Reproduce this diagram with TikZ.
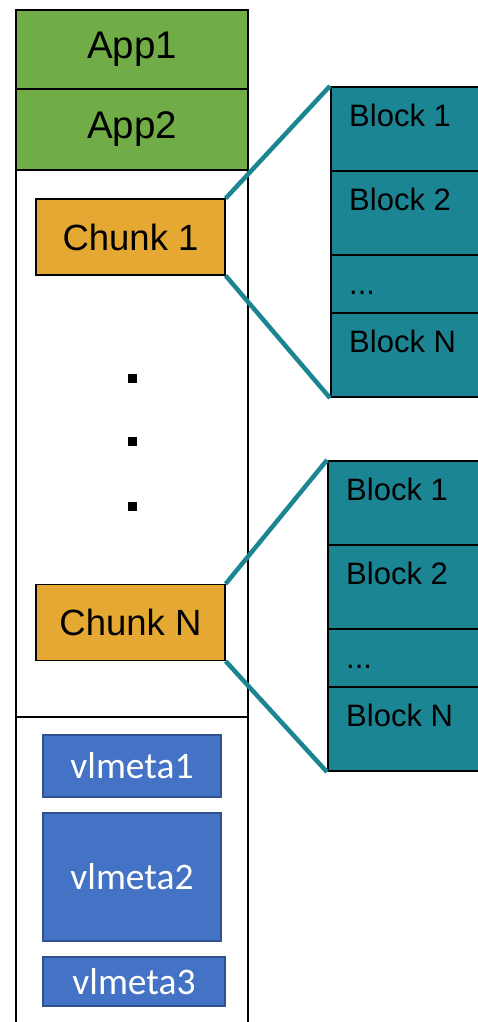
\documentclass[tikz,border=0pt]{standalone}
\usepackage{fontspec}
\setmainfont{Liberation Sans}
\newfontfamily\metafont{Carlito}
\definecolor{appgreen}{HTML}{70AD47}
\definecolor{chunkgold}{HTML}{E5A832}
\definecolor{blockteal}{HTML}{1B8593}
\definecolor{metablue}{HTML}{4472C4}
\definecolor{metaedge}{HTML}{2F528F}
\begin{document}
\begin{tikzpicture}[x=1pt,y=-1pt,
  col/.style={draw,line width=1.6pt,minimum width=232pt,inner sep=0pt},
  app/.style={col,fill=appgreen,font=\fontsize{38.5}{44}\selectfont},
  chunk/.style={draw,line width=1.3pt,fill=chunkgold,minimum width=189pt,minimum height=76pt,inner sep=0pt,font=\fontsize{36.5}{42}\selectfont},
  blk/.style={draw,line width=2pt,fill=blockteal,minimum width=170pt,minimum height=#1,inner sep=0pt,anchor=north west},
  btxt/.style={anchor=north west,inner sep=0pt,font=\fontsize{31}{36}\selectfont,text height=22pt},
  meta/.style={draw=metaedge,line width=1.5pt,fill=metablue,text=white,inner sep=0pt,font=\metafont\fontsize{37.5}{42}\selectfont},
  dotsq/.style={fill,minimum size=9pt,inner sep=0pt},
  zoomline/.style={draw=blockteal,line width=4.5pt}]
  \useasboundingbox (0,0) rectangle (478,1022);
  % file column
  \node[app,minimum height=79pt] (app1) at (132,49.5){App1};
  \node[app,minimum height=81pt] (app2) at (132,129.5){App2};
  \node[col,minimum height=547pt] (mid) at (132,443.5){};
  \node[col,minimum height=326pt] (low) at (132,880){};
  % chunks
  \node[chunk] (c1) at (130.5,237){Chunk 1};
  \node[dotsq] (d1) at (132,378){};
  \node[dotsq] (d2) at (132,441){};
  \node[dotsq] (d3) at (132,506){};
  \node[chunk] (cn) at (130.5,622.5){Chunk N};
  % metadata
  \node[meta,minimum width=178pt,minimum height=62pt] (vm1) at (132,766){vlmeta1};
  \node[meta,minimum width=178pt,minimum height=128pt] (vm2) at (132,877){vlmeta2};
  \node[meta,minimum width=182pt,minimum height=49pt] (vm3) at (134,981.5){vlmeta3};
  % blocks of chunk 1
  \node[blk=84pt] (b11) at (330,86){};
  \node[blk=84pt] (b12) at (330,170){};
  \node[blk=58pt] (b13) at (330,254){};
  \node[blk=84pt] (b14) at (330,312){};
  \node[btxt] (t11) at ([shift={(19,18)}]b11.north west){Block 1};
  \node[btxt] (t12) at ([shift={(19,18)}]b12.north west){Block 2};
  \node[btxt] (t13) at ([shift={(19,18)}]b13.north west){...};
  \node[btxt] (t14) at ([shift={(19,18)}]b14.north west){Block N};
  % blocks of chunk N
  \node[blk=84pt] (b21) at (327,460){};
  \node[blk=84pt] (b22) at (327,544){};
  \node[blk=58pt] (b23) at (327,628){};
  \node[blk=84pt] (b24) at (327,686){};
  \node[btxt] (t21) at ([shift={(19,18)}]b21.north west){Block 1};
  \node[btxt] (t22) at ([shift={(19,18)}]b22.north west){Block 2};
  \node[btxt] (t23) at ([shift={(19,18)}]b23.north west){...};
  \node[btxt] (t24) at ([shift={(19,18)}]b24.north west){Block N};
  % zoom lines
  \draw[zoomline] (c1.north east) -- (b11.north west);
  \draw[zoomline] (c1.south east) -- (b14.south west);
  \draw[zoomline] (cn.north east) -- (b21.north west);
  \draw[zoomline] (cn.south east) -- (b24.south west);
\end{tikzpicture}
\end{document}
